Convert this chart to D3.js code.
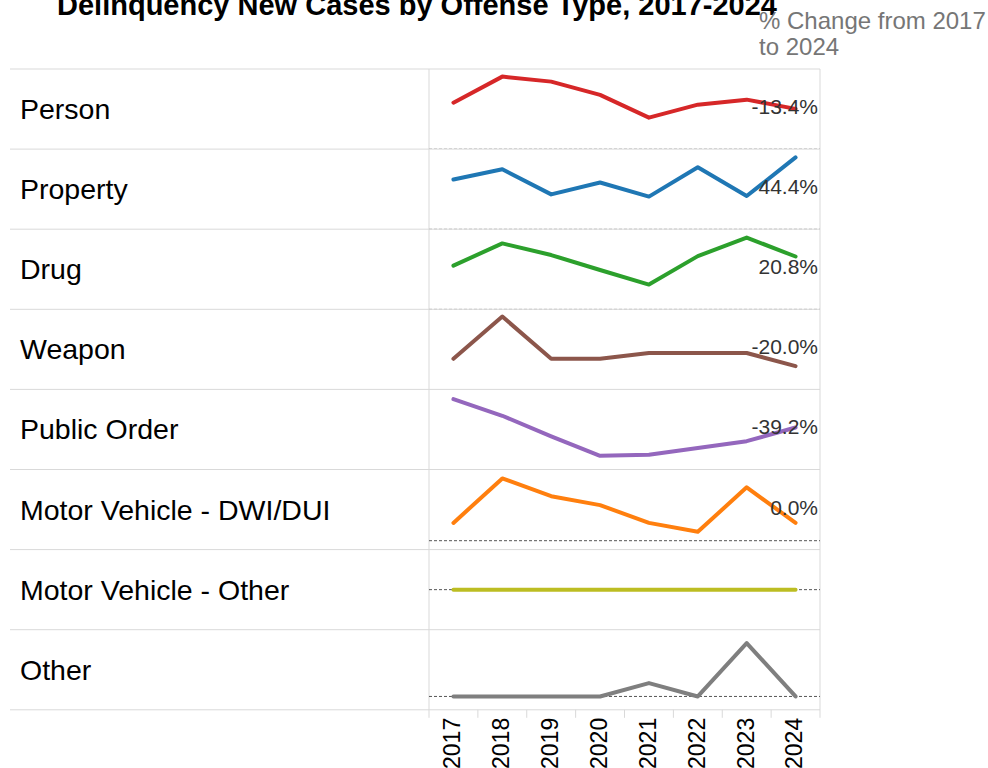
<!DOCTYPE html>
<html>
<head>
<meta charset="utf-8">
<script src="https://cdn.jsdelivr.net/npm/d3@7"></script>
<style>
  body { margin: 0; background: #fff; }
  svg { display: block; font-family: "Liberation Sans", Arial, sans-serif; }
</style>
</head>
<body>
<div id="chart"></div>
<script>
// values (cases per year)
var years = [2017, 2018, 2019, 2020, 2021, 2022, 2023, 2024]
var offenses = ["Person", "Property", "Drug", "Weapon", "Public Order",
  "Motor Vehicle - DWI/DUI", "Motor Vehicle - Other", "Other"]

var person      = [232, 362, 337, 271, 157, 222, 247, 201]
var property    = [180, 217, 126, 169, 118, 224, 120, 260]
var drug        = [120, 181, 149, 108, 68, 146, 197, 145]
var weapon      = [25, 54, 25, 25, 29, 29, 29, 20]
var publicOrder = [74, 57, 36, 16, 17, 24, 31, 45]
var dwi         = [2, 7, 5, 4, 2, 1, 6, 2]
var mvOther     = [0, 0, 0, 0, 0, 0, 0, 0]
var other       = [0, 0, 0, 0, 1, 0, 4, 0]

var series = [person, property, drug, weapon, publicOrder, dwi, mvOther, other]

// each row has its own axis range
var yDomains = [[0, 400], [0, 290], [0, 220], [4, 59], [2, 84], [-1, 8], [-1, 1], [-1, 5]]

var colors = ["#d62728", "#1f77b4", "#2ca02c", "#8c564b", "#9467bd", "#ff7f0e", "#bcbd22", "#7f7f7f"]

var width = 988
var height = 768
var labelLeft = 10
var panelLeft = 429
var panelRight = 820
var gridTop = 69
var rowH = 80.1
var gridBottom = gridTop + rowH * offenses.length

var svg = d3.select("#chart")
  .append("svg")
    .attr("width", width)
    .attr("height", height)

var x = d3.scaleBand()
  .domain(years)
  .range([panelLeft, panelRight])

var row = d3.scaleBand()
  .domain(offenses)
  .range([gridTop, gridBottom])

// title (sits partly above the page edge in the original)
svg.append("text")
  .attr("x", 417)
  .attr("y", 15)
  .attr("text-anchor", "middle")
  .style("font-size", "29px")
  .style("font-weight", "bold")
  .style("fill", "#000")
  .text("Delinquency New Cases by Offense Type, 2017-2024")

var head = svg.append("text")
  .attr("x", 759)
  .attr("y", 29)
  .style("font-size", "24px")
  .style("fill", "#767676")
head.append("tspan").attr("x", 759).text("% Change from 2017")
head.append("tspan").attr("x", 759).attr("dy", 26).text("to 2024")

// row borders
svg.selectAll("rowLines")
  .data(d3.range(offenses.length + 1))
  .enter()
  .append("line")
    .attr("x1", labelLeft)
    .attr("x2", panelRight)
    .attr("y1", function(i) { return gridTop + i * rowH })
    .attr("y2", function(i) { return gridTop + i * rowH })
    .attr("stroke", "#d9d9d9")
    .attr("stroke-width", 1)

// panel borders
svg.selectAll("vLines")
  .data([panelLeft, panelRight])
  .enter()
  .append("line")
    .attr("x1", function(d) { return d })
    .attr("x2", function(d) { return d })
    .attr("y1", gridTop)
    .attr("y2", gridBottom + 8)
    .attr("stroke", "#d9d9d9")

// tick separators under the last row
svg.selectAll("tickSep")
  .data(years.slice(1))
  .enter()
  .append("line")
    .attr("x1", function(d) { return x(d) })
    .attr("x2", function(d) { return x(d) })
    .attr("y1", gridBottom)
    .attr("y2", gridBottom + 8)
    .attr("stroke", "#d9d9d9")

svg.selectAll("yearLabels")
  .data(years)
  .enter()
  .append("text")
    .attr("transform", function(d) {
      return "translate(" + (x(d) + x.bandwidth() / 2) + "," + (gridBottom + 8) + ") rotate(-90)"
    })
    .attr("dy", "0.3em")
    .attr("text-anchor", "end")
    .style("font-size", "23px")
    .style("fill", "#000")
    .text(function(d) { return d })

// row labels
svg.selectAll("rowLabels")
  .data(offenses)
  .enter()
  .append("text")
    .attr("x", 20)
    .attr("y", function(d) { return row(d) + rowH / 2 + 10 })
    .style("font-size", "28.5px")
    .style("fill", "#000")
    .text(function(d) { return d })

var defs = svg.append("defs")

offenses.forEach(function(name, i) {
  var y0 = row(name)
  var y = d3.scaleLinear()
    .domain(yDomains[i])
    .range([y0 + rowH, y0])

  defs.append("clipPath")
    .attr("id", "clip" + i)
    .append("rect")
      .attr("x", panelLeft)
      .attr("y", y0)
      .attr("width", panelRight - panelLeft)
      .attr("height", rowH)

  var g = svg.append("g").attr("clip-path", "url(#clip" + i + ")")

  // zero reference line, fainter where it lies on the row border
  var d = yDomains[i]
  if (d[0] <= 0 && d[1] >= 0) {
    var onEdge = Math.abs(y(0) - (y0 + rowH)) < 1.5
    g.append("line")
      .attr("x1", panelLeft)
      .attr("x2", panelRight)
      .attr("y1", y(0))
      .attr("y2", y(0))
      .attr("stroke", onEdge ? "#aaa" : "#555")
      .attr("stroke-width", 1)
      .attr("stroke-dasharray", "3,2")
  }

  var line = d3.line()
    .x(function(v, j) { return x(years[j]) + x.bandwidth() / 2 })
    .y(function(v) { return y(v) })

  svg.append("path")
    .datum(series[i])
    .attr("d", line)
    .attr("fill", "none")
    .attr("stroke", colors[i])
    .attr("stroke-width", 4)
    .attr("stroke-linejoin", "round")
    .attr("stroke-linecap", "round")

  var first = series[i][0]
  var last = series[i][series[i].length - 1]
  if (first !== 0) {
    var pct = (last - first) / first * 100
    svg.append("text")
      .attr("x", 818)
      .attr("y", y0 + rowH / 2 + 5)
      .attr("text-anchor", "end")
      .style("font-size", "21px")
      .style("fill", "#333")
      .text(pct.toFixed(1) + "%")
  }
})
</script>
</body>
</html>
